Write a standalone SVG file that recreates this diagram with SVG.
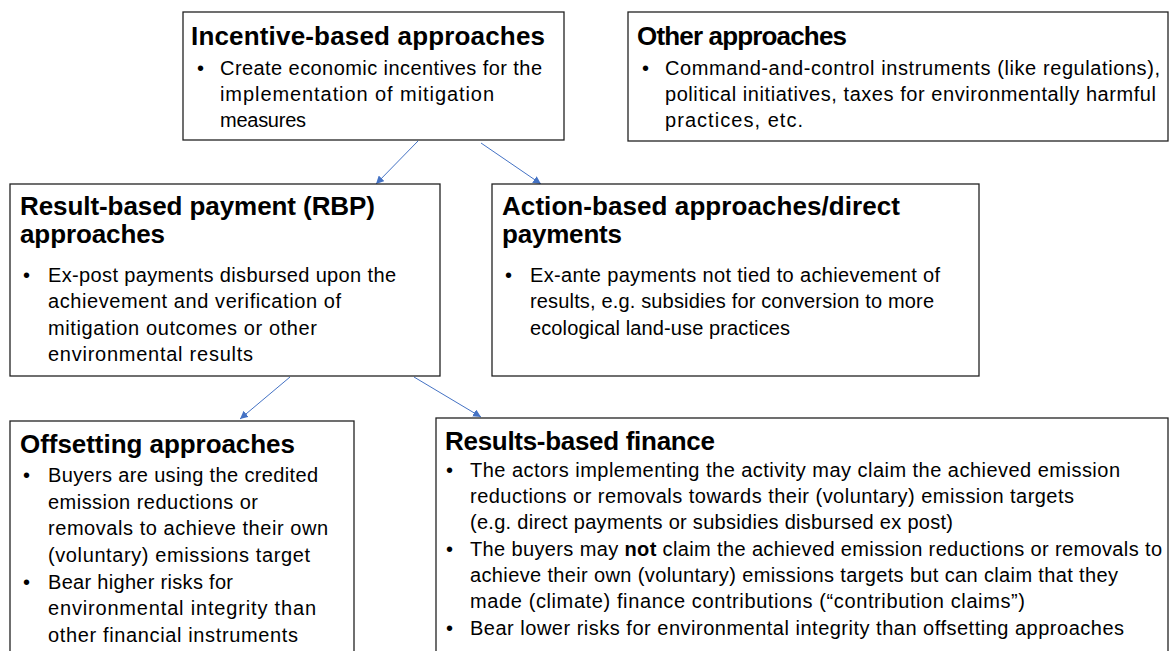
<svg xmlns="http://www.w3.org/2000/svg" width="1172" height="651" viewBox="0 0 1172 651">
<style>
.box{fill:#fff;stroke:#222;stroke-width:1.3}
.t{font-family:"Liberation Sans",Arial,sans-serif;font-size:26px;font-weight:bold;fill:#000}
.b{font-family:"Liberation Sans",Arial,sans-serif;font-size:20px;fill:#000}
.c{stroke:#4472C4;stroke-width:1;fill:none;marker-end:url(#ah)}
</style>
<defs>
<marker id="ah" viewBox="0 0 10 10" refX="10" refY="5" markerWidth="8" markerHeight="8" markerUnits="userSpaceOnUse" orient="auto">
<path d="M0,0 L10,5 L0,10 z" fill="#4472C4"/>
</marker>
</defs>
<rect width="1172" height="651" fill="#fff"/>
<g id="connectors">
<line class="c" x1="418" y1="141" x2="376" y2="184"/>
<line class="c" x1="481" y1="143" x2="541" y2="184"/>
<line class="c" x1="290" y1="377" x2="240" y2="419"/>
<line class="c" x1="414" y1="377" x2="481" y2="417"/>
</g>
<g id="incentive">
<rect class="box" x="183" y="12" width="381" height="128"/>
<text class="t" x="191" y="45" textLength="354">Incentive-based approaches</text>
<text class="b" x="197" y="75">•</text>
<text class="b" x="220" y="75" textLength="322">Create economic incentives for the</text>
<text class="b" x="220" y="101" textLength="274">implementation of mitigation</text>
<text class="b" x="220" y="127" textLength="86">measures</text>
</g>
<g id="other">
<rect class="box" x="628" y="12" width="540" height="129"/>
<text class="t" x="637" y="45" textLength="210">Other approaches</text>
<text class="b" x="642" y="75">•</text>
<text class="b" x="665" y="75" textLength="495">Command-and-control instruments (like regulations),</text>
<text class="b" x="665" y="101" textLength="491">political initiatives, taxes for environmentally harmful</text>
<text class="b" x="665" y="127" textLength="138">practices, etc.</text>
</g>
<g id="rbp">
<rect class="box" x="10" y="184" width="430" height="192"/>
<text class="t" x="20" y="215" textLength="355">Result-based payment (RBP)</text>
<text class="t" x="20" y="243" textLength="145">approaches</text>
<text class="b" x="23" y="282">•</text>
<text class="b" x="48" y="282" textLength="348">Ex-post payments disbursed upon the</text>
<text class="b" x="48" y="308" textLength="293">achievement and verification of</text>
<text class="b" x="48" y="335" textLength="269">mitigation outcomes or other</text>
<text class="b" x="48" y="361" textLength="205">environmental results</text>
</g>
<g id="action">
<rect class="box" x="492" y="184" width="487" height="192"/>
<text class="t" x="502" y="215" textLength="398">Action-based approaches/direct</text>
<text class="t" x="502" y="243" textLength="120">payments</text>
<text class="b" x="505" y="282">•</text>
<text class="b" x="530" y="282" textLength="410">Ex-ante payments not tied to achievement of</text>
<text class="b" x="530" y="308" textLength="404">results, e.g. subsidies for conversion to more</text>
<text class="b" x="530" y="335" textLength="260">ecological land-use practices</text>
</g>
<g id="offsetting">
<rect class="box" x="10" y="421" width="344" height="250"/>
<text class="t" x="20" y="453" textLength="275">Offsetting approaches</text>
<text class="b" x="23" y="482">•</text>
<text class="b" x="48" y="482" textLength="270">Buyers are using the credited</text>
<text class="b" x="48" y="509" textLength="210">emission reductions or</text>
<text class="b" x="48" y="535" textLength="280">removals to achieve their own</text>
<text class="b" x="48" y="562" textLength="262">(voluntary) emissions target</text>
<text class="b" x="23" y="589">•</text>
<text class="b" x="48" y="589" textLength="185">Bear higher risks for</text>
<text class="b" x="48" y="615" textLength="268">environmental integrity than</text>
<text class="b" x="48" y="642" textLength="250">other financial instruments</text>
</g>
<g id="rbf">
<rect class="box" x="436" y="418" width="732" height="253"/>
<text class="t" x="445" y="450" textLength="270">Results-based finance</text>
<text class="b" x="446" y="477">•</text>
<text class="b" x="470" y="477" textLength="650">The actors implementing the activity may claim the achieved emission</text>
<text class="b" x="470" y="503" textLength="604">reductions or removals towards their (voluntary) emission targets</text>
<text class="b" x="470" y="529" textLength="483">(e.g. direct payments or subsidies disbursed ex post)</text>
<text class="b" x="446" y="556">•</text>
<text class="b" x="470" y="556" textLength="692">The buyers may <tspan font-weight="bold">not</tspan> claim the achieved emission reductions or removals to</text>
<text class="b" x="470" y="582" textLength="648">achieve their own (voluntary) emissions targets but can claim that they</text>
<text class="b" x="470" y="608" textLength="555">made (climate) finance contributions (“contribution claims”)</text>
<text class="b" x="446" y="635">•</text>
<text class="b" x="470" y="635" textLength="654">Bear lower risks for environmental integrity than offsetting approaches</text>
</g>
</svg>
